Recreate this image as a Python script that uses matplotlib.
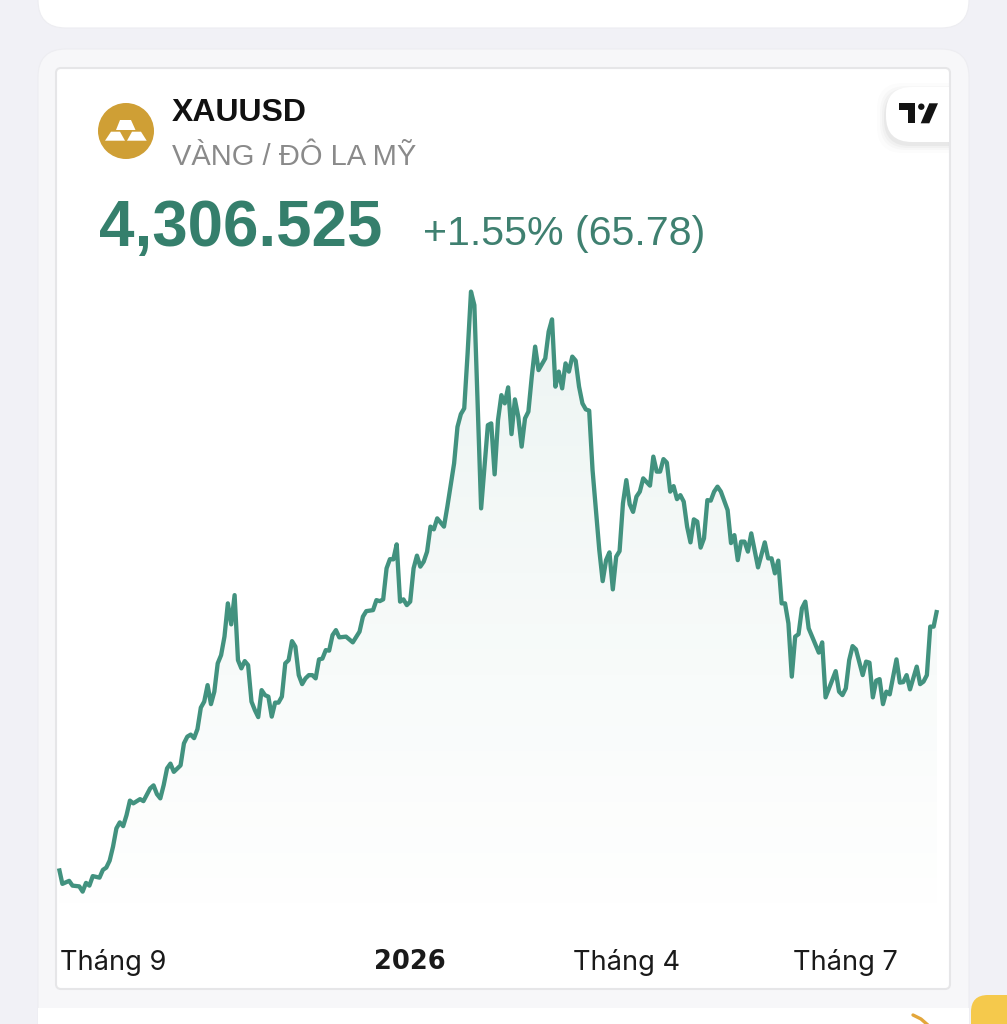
import matplotlib
matplotlib.use("Agg")
import matplotlib.pyplot as plt
import numpy as np
from matplotlib.colors import LinearSegmentedColormap
from matplotlib.patches import Circle, FancyBboxPatch, Polygon, Rectangle

WIDTH, HEIGHT = 1007, 1024

SYMBOL = "XAUUSD"
NAME = "VÀNG / ĐÔ LA MỸ"
LAST_PRICE = "4,306.525"
CHANGE = "+1.55% (65.78)"

TICK_DAYS = [16, 104, 168, 233]
TICK_LABELS = ["Tháng 9", "2026", "Tháng 4", "Tháng 7"]

# session number and close, only the corners of the line
DAYS = [
    0, 1, 3, 4, 6, 7, 8, 9, 10, 12, 13, 14, 15, 16, 17, 18, 19, 20, 21, 22,
    24, 25, 27, 28, 29, 30, 31, 32, 33, 34, 36, 37, 38, 39, 40, 41, 42, 43, 44, 45,
    46, 47, 48, 49, 50, 51, 52, 53, 54, 55, 56, 57, 58, 59, 60, 61, 62, 63, 64, 65,
    66, 67, 68, 69, 70, 71, 72, 73, 74, 75, 76, 77, 78, 79, 80, 81, 82, 83, 85, 87,
    89, 90, 91, 93, 94, 95, 96, 97, 98, 99, 100, 101, 102, 103, 104, 105, 106, 107, 108, 109,
    110, 111, 112, 114, 115, 117, 118, 119, 120, 121, 122, 123, 125, 127, 128, 129, 130, 131, 132, 133,
    134, 135, 136, 137, 138, 139, 140, 141, 142, 144, 145, 146, 147, 148, 149, 150, 151, 152, 153, 154,
    155, 156, 157, 158, 160, 161, 162, 163, 164, 165, 166, 167, 168, 169, 170, 171, 172, 173, 175, 176,
    177, 178, 179, 180, 181, 182, 183, 184, 185, 186, 187, 188, 189, 190, 191, 192, 193, 194, 195, 196,
    198, 199, 200, 201, 202, 203, 204, 205, 207, 209, 210, 211, 212, 213, 214, 215, 216, 217, 218, 219,
    220, 221, 222, 225, 226, 227, 230, 231, 232, 233, 234, 235, 236, 238, 239, 240, 241, 242, 243, 244,
    245, 246, 248, 249, 250, 251, 252, 254, 255, 256, 257, 258, 259, 260,
]
PRICES = [
    3273, 3211, 3223, 3204, 3201, 3180, 3215, 3204, 3242, 3236, 3267, 3276, 3304, 3360, 3433, 3457, 3442, 3486, 3544, 3533,
    3550, 3542, 3593, 3605, 3570, 3553, 3606, 3673, 3692, 3659, 3685, 3773, 3800, 3808, 3794, 3830, 3916, 3940, 4006, 3930,
    3980, 4093, 4126, 4200, 4333, 4249, 4366, 4106, 4073, 4102, 4086, 3940, 3906, 3878, 3986, 3966, 3960, 3880, 3936, 3936,
    3960, 4093, 4106, 4182, 4160, 4046, 4010, 4033, 4046, 4046, 4033, 4109, 4112, 4146, 4144, 4206, 4226, 4197, 4200, 4177,
    4220, 4280, 4302, 4306, 4346, 4342, 4349, 4473, 4510, 4509, 4569, 4340, 4349, 4326, 4340, 4473, 4524, 4480, 4500, 4540,
    4640, 4629, 4673, 4640, 4720, 4893, 5039, 5090, 5113, 5333, 5580, 5526, 4713, 5046, 5053, 4849, 5066, 5166, 5133, 5197,
    5010, 5149, 5080, 4960, 5073, 5100, 5240, 5360, 5266, 5313, 5420, 5469, 5200, 5260, 5193, 5293, 5260, 5320, 5304, 5200,
    5133, 5109, 5104, 4866, 4546, 4422, 4506, 4537, 4389, 4520, 4542, 4733, 4826, 4729, 4699, 4760, 4780, 4833, 4804, 4920,
    4860, 4860, 4910, 4896, 4780, 4802, 4750, 4766, 4740, 4640, 4577, 4669, 4660, 4556, 4593, 4746, 4744, 4780, 4800, 4780,
    4706, 4574, 4606, 4506, 4580, 4580, 4540, 4613, 4477, 4577, 4513, 4513, 4453, 4504, 4333, 4333, 4253, 4040, 4200, 4210,
    4313, 4340, 4233, 4136, 4177, 3957, 4062, 3980, 3966, 3993, 4106, 4162, 4149, 4046, 4100, 4096, 3957, 4024, 4030, 3930,
    3980, 3969, 4109, 4016, 4018, 4046, 3989, 4080, 4010, 4020, 4046, 4240, 4240, 4306.5,
]

PAGE_BG = "#F1F1F6"
CARD_BG = "#F7F7F9"
BORDER = "#E6E6E8"
LINE_COLOR = "#42927F"
PRICE_COLOR = "#357F6C"
CHANGE_COLOR = "#3F8070"
GOLD = "#CF9F35"


def rounded(ax, x0, y0, x1, y1, radius, **kwargs):
    patch = FancyBboxPatch(
        (x0 + radius, y0 + radius),
        x1 - x0 - 2 * radius,
        y1 - y0 - 2 * radius,
        boxstyle=f"round,pad={radius},rounding_size={radius}",
        **kwargs,
    )
    ax.add_patch(patch)
    return patch


def draw_page(ax):
    rounded(ax, 38, -60, 969, 28, 28, facecolor="white", edgecolor="#EDEDF1", linewidth=0.8)
    rounded(ax, 38, 49, 969, 1060, 28, facecolor=CARD_BG, edgecolor="#EDEDF1", linewidth=0.8)
    ax.add_patch(Rectangle((38, 1008), 931, 20, facecolor="white", edgecolor="none"))
    rounded(ax, 56, 68, 950, 989, 5, facecolor="white", edgecolor=BORDER, linewidth=1.5)
    # bits of the next card that are cut off by the screen
    ax.plot([913, 921, 929], [1015, 1019, 1026], color="#E3A63A", linewidth=2.4, solid_capstyle="round")
    rounded(ax, 971, 995, 1040, 1060, 17, facecolor="#F5C94C", edgecolor="none")


def draw_logo(ax):
    ax.add_patch(Circle((126, 131), 28, facecolor=GOLD, edgecolor="none"))
    bars = [
        [(120, 120), (131, 120), (135.5, 130), (116, 130)],
        [(111, 131.7), (120, 131.7), (125, 140.7), (105, 140.7)],
        [(132, 131.7), (141, 131.7), (146.7, 140.7), (127, 140.7)],
    ]
    for bar in bars:
        ax.add_patch(Polygon(bar, closed=True, facecolor="white", edgecolor="none"))


def draw_badge(ax):
    clip = Rectangle((860, 70), 89, 100, transform=ax.transData)
    for grow, alpha in [(9, 0.012), (6, 0.018), (4, 0.025), (2, 0.035)]:
        shadow = rounded(
            ax, 886 - grow, 92 - grow, 990, 144 + grow, 26,
            facecolor="black", edgecolor="none", alpha=alpha,
        )
        shadow.set_clip_path(clip)
    badge = rounded(ax, 886, 87, 990, 142, 26, facecolor="white", edgecolor="none")
    badge.set_clip_path(clip)
    t_mark = [(899.3, 103.3), (915.3, 103.3), (915.3, 123.3), (907.7, 123.3), (907.7, 110), (899.3, 110)]
    slash = [(929.3, 103.3), (938, 103.3), (929.3, 123.3), (920.7, 123.3)]
    ax.add_patch(Polygon(t_mark, closed=True, facecolor="#131313", edgecolor="none"))
    ax.add_patch(Polygon(slash, closed=True, facecolor="#131313", edgecolor="none"))
    ax.add_patch(Circle((921.3, 106.7), 3.2, facecolor="#131313", edgecolor="none"))


def draw_header(ax):
    head = ["Liberation Sans", "DejaVu Sans"]
    ax.text(172, 121, SYMBOL, family=head, fontsize=23, fontweight="bold", color="#111111", va="baseline")
    ax.text(172, 165, NAME, family=head, fontsize=21, color="#8A8A8A", va="baseline")
    ax.text(99, 246, LAST_PRICE, family=head, fontsize=45.8, fontweight="bold", color=PRICE_COLOR, va="baseline")
    ax.text(423, 245, CHANGE, family=head, fontsize=29.6, color=CHANGE_COLOR, va="baseline")


def draw_chart(ax, days, prices):
    ax.patch.set_visible(False)
    ax.set_xlim(0, 260)
    # same scale as the line on screen, 4 price units to a pixel
    ax.set_ylim(3026.5, 5626.5)

    cmap = LinearSegmentedColormap.from_list(
        "fade", [(0.26, 0.57, 0.50, 0.10), (0.26, 0.57, 0.50, 0.0)]
    )
    gradient = np.linspace(0, 1, 256).reshape(-1, 1)
    image = ax.imshow(
        gradient, cmap=cmap, aspect="auto", extent=(0, 260, 3026.5, 5626.5),
        origin="upper", zorder=1,
    )
    fill = ax.fill_between(days, prices, 3026.5, facecolor="none", edgecolor="none")
    image.set_clip_path(fill.get_paths()[0], transform=ax.transData)

    ax.plot(days, prices, color=LINE_COLOR, linewidth=3.1, solid_joinstyle="round", solid_capstyle="butt", zorder=3, clip_on=False)

    ax.set_xticks(TICK_DAYS)
    ax.set_xticklabels(TICK_LABELS, family=["Inter", "DejaVu Sans"], fontsize=19.6, color="#1A1A1A")
    year_label = ax.get_xticklabels()[1]
    year_label.set_family(["DejaVu Sans"])
    year_label.set_fontweight("bold")
    year_label.set_fontsize(18.5)
    ax.tick_params(axis="x", length=0, pad=14)
    ax.set_yticks([])
    for spine in ax.spines.values():
        spine.set_visible(False)


def main():
    fig = plt.figure(figsize=(WIDTH / 100, HEIGHT / 100), dpi=100, facecolor=PAGE_BG)

    page = fig.add_axes([0, 0, 1, 1])
    page.set_xlim(0, WIDTH)
    page.set_ylim(HEIGHT, 0)
    page.axis("off")
    draw_page(page)
    draw_logo(page)
    draw_badge(page)
    draw_header(page)

    left, right, top, bottom = 59, 937, 280, 930
    chart = fig.add_axes([
        left / WIDTH,
        1 - bottom / HEIGHT,
        (right - left) / WIDTH,
        (bottom - top) / HEIGHT,
    ])
    draw_chart(chart, DAYS, PRICES)

    fig.savefig("out.png", dpi=100, facecolor=fig.get_facecolor())
    plt.close(fig)


if __name__ == "__main__":
    main()
